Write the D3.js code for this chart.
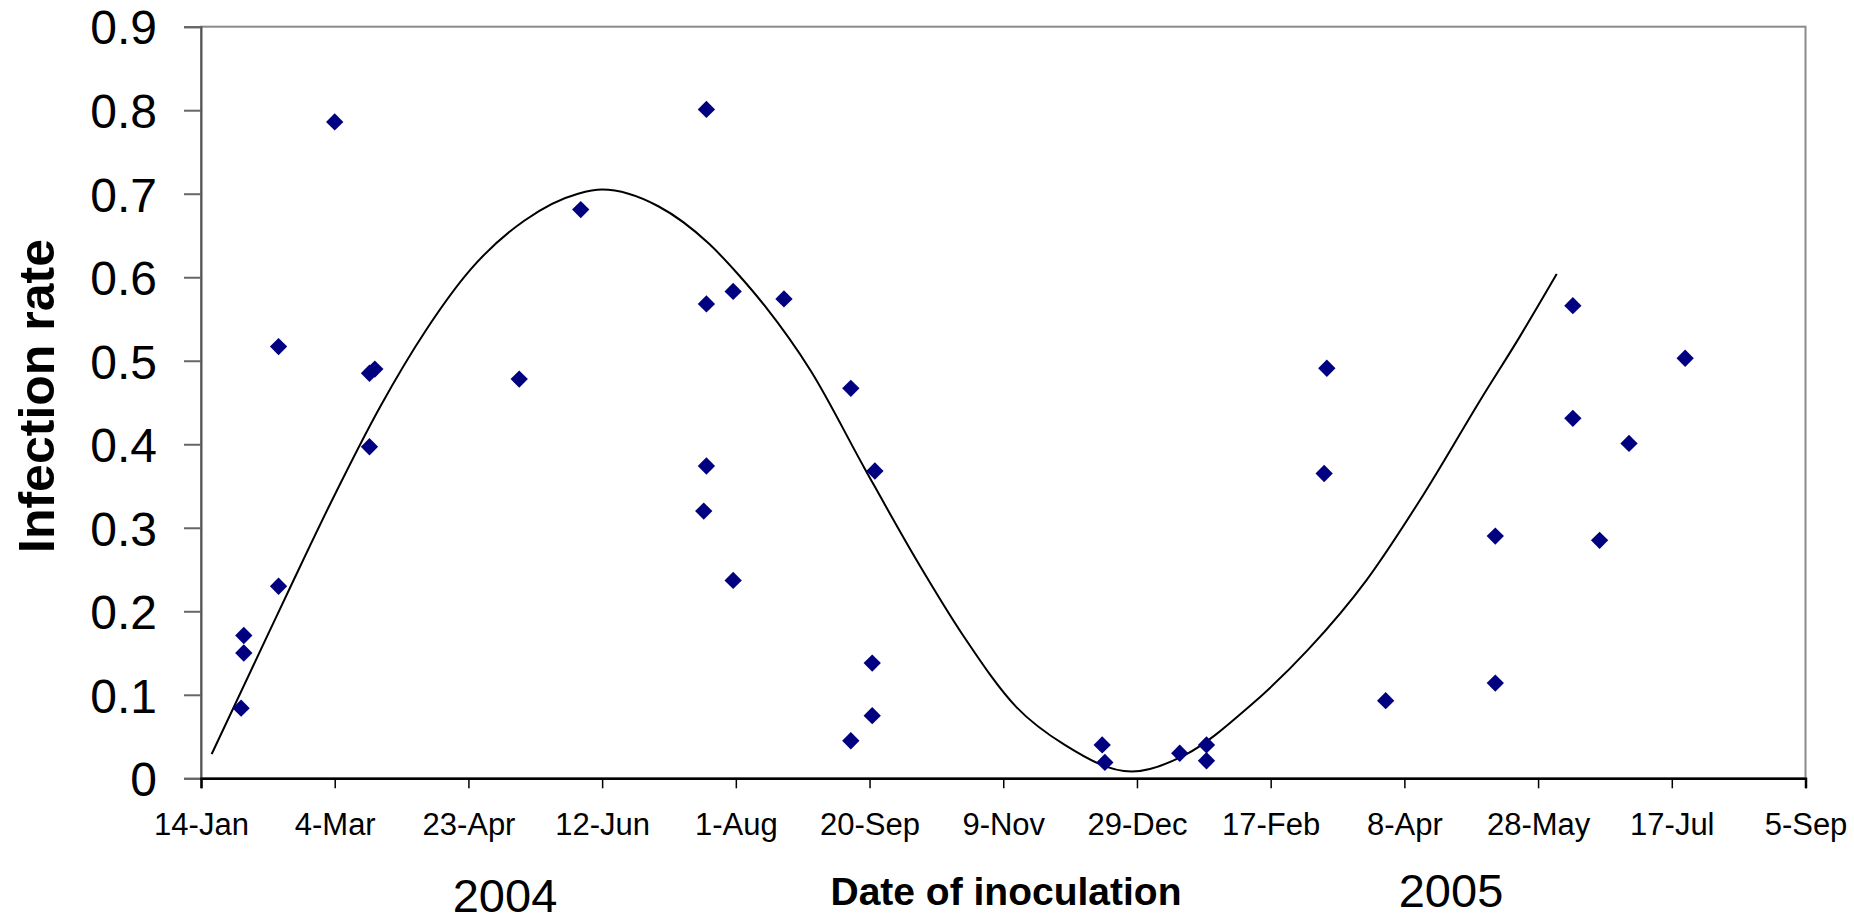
<!DOCTYPE html>
<html>
<head>
<meta charset="utf-8">
<script src="https://cdn.jsdelivr.net/npm/d3@7"></script>
<style>
  html, body { margin: 0; padding: 0; background: #fff; }
  svg { display: block; }
  text { font-family: "Liberation Sans", Arial, sans-serif; fill: #000; }
</style>
</head>
<body>
<svg id="chart" width="1854" height="921"></svg>
<script>
// ---- data ----
const pointDates = [
  "2004-01-30","2004-01-30","2004-01-29",
  "2004-02-12","2004-02-12",
  "2004-03-04",
  "2004-03-17","2004-03-19","2004-03-17",
  "2004-05-12",
  "2004-06-04",
  "2004-07-21","2004-07-21","2004-07-21","2004-07-20",
  "2004-07-31","2004-07-31",
  "2004-08-19",
  "2004-09-13","2004-09-13",
  "2004-09-22","2004-09-21","2004-09-21",
  "2004-12-16","2004-12-17",
  "2005-01-14",
  "2005-01-24","2005-01-24",
  "2005-03-10","2005-03-09",
  "2005-04-01",
  "2005-05-12","2005-05-12",
  "2005-06-10","2005-06-10",
  "2005-06-20",
  "2005-07-01",
  "2005-07-22"
];
const pointRates = [
  0.171, 0.150, 0.084,
  0.517, 0.230,
  0.786,
  0.485, 0.490, 0.397,
  0.478,
  0.681,
  0.801, 0.568, 0.374, 0.320,
  0.583, 0.237,
  0.574,
  0.467, 0.045,
  0.368, 0.138, 0.075,
  0.040, 0.019,
  0.030,
  0.040, 0.021,
  0.491, 0.365,
  0.093,
  0.290, 0.114,
  0.566, 0.431,
  0.285,
  0.401,
  0.503
];
const curveDates = [
  "2004-01-18","2004-02-08","2004-02-17","2004-03-03","2004-03-21","2004-04-07",
  "2004-04-24","2004-05-14","2004-06-03","2004-06-12","2004-07-03","2004-07-22",
  "2004-08-02","2004-08-12","2004-08-29","2004-09-18","2004-10-08","2004-10-25",
  "2004-11-14","2004-12-02","2004-12-27","2005-01-16","2005-02-09","2005-03-03",
  "2005-03-25","2005-04-15","2005-05-07","2005-05-21","2005-06-04"
];
const curveRates = [
  0.029, 0.172, 0.233, 0.333, 0.445, 0.536,
  0.610, 0.668, 0.700, 0.705, 0.685, 0.640,
  0.603, 0.565, 0.488, 0.372, 0.259, 0.171,
  0.085, 0.040, 0.008, 0.028, 0.086, 0.154,
  0.238, 0.339, 0.456, 0.528, 0.604
];
const xTickDates = [
  "2004-01-14","2004-03-04","2004-04-23","2004-06-12","2004-08-01","2004-09-20",
  "2004-11-09","2004-12-29","2005-02-17","2005-04-08","2005-05-28","2005-07-17","2005-09-05"
];
const yTicks = [0, 0.1, 0.2, 0.3, 0.4, 0.5, 0.6, 0.7, 0.8, 0.9];
const yTitle = "Infection rate";
const xTitle = "Date of inoculation";
const yearLabels = ["2004", "2005"];

// ---- layout ----
const parse = d3.utcParse("%Y-%m-%d");
const fmt = d3.utcFormat("%-d-%b");
const plot = { left: 201, right: 1805.5, top: 26.7, bottom: 778.3 };

const svg = d3.select("#chart");

const x = d3.scaleUtc()
  .domain([parse(xTickDates[0]), parse(xTickDates[xTickDates.length - 1])])
  .range([plot.left, plot.right]);
const y = d3.scaleLinear()
  .domain([0, 0.9])
  .range([plot.bottom, plot.top]);

// plot area border
svg.append("rect")
  .attr("x", plot.left).attr("y", plot.top)
  .attr("width", plot.right - plot.left).attr("height", plot.bottom - plot.top)
  .attr("fill", "none").attr("stroke", "#8a8a8a").attr("stroke-width", 2);

// y axis
const yAxis = svg.append("g")
  .attr("transform", `translate(${plot.left},0)`)
  .call(d3.axisLeft(y).tickValues(yTicks).tickSize(17).tickPadding(27)
    .tickFormat(d3.format(".1~f")));
yAxis.select(".domain").attr("stroke", "#555").attr("stroke-width", 2);
yAxis.selectAll(".tick line").attr("stroke", "#666").attr("stroke-width", 2);
yAxis.selectAll(".tick text")
  .style("font-family", "'Liberation Sans', Arial, sans-serif")
  .style("font-size", "48px").attr("fill", "#000").attr("dy", "0.36em");

// x axis
const xAxis = svg.append("g")
  .attr("transform", `translate(0,${plot.bottom})`)
  .call(d3.axisBottom(x).tickValues(xTickDates.map(parse)).tickSize(10).tickPadding(25)
    .tickFormat(fmt));
xAxis.select(".domain").attr("stroke", "#000").attr("stroke-width", 2.5);
xAxis.selectAll(".tick line").attr("stroke", "#000").attr("stroke-width", 1.5);
xAxis.selectAll(".tick text")
  .style("font-family", "'Liberation Sans', Arial, sans-serif")
  .style("font-size", "31px").attr("fill", "#000");

// fitted curve
const curveData = curveDates.map((d, i) => ({ date: parse(d), v: curveRates[i] }));
svg.append("path")
  .datum(curveData)
  .attr("fill", "none")
  .attr("stroke", "#000")
  .attr("stroke-width", 2)
  .attr("d", d3.line().x(d => x(d.date)).y(d => y(d.v)).curve(d3.curveMonotoneX));

// points
const pts = pointDates.map((d, i) => ({ date: parse(d), v: pointRates[i] }));
const diamond = d3.symbol().type(d3.symbolSquare).size(150);
svg.append("g").selectAll("path")
  .data(pts)
  .join("path")
  .attr("d", diamond)
  .attr("transform", d => `translate(${x(d.date)},${y(d.v)}) rotate(45)`)
  .attr("fill", "#000080");

// titles
svg.append("text")
  .attr("transform", "translate(54,396) rotate(-90)")
  .attr("text-anchor", "middle")
  .style("font-weight", "bold").style("font-size", "50px")
  .text(yTitle);

svg.append("text")
  .attr("x", 1006).attr("y", 905)
  .attr("text-anchor", "middle")
  .style("font-weight", "bold").style("font-size", "39px")
  .text(xTitle);

svg.append("text")
  .attr("x", 505).attr("y", 912)
  .attr("text-anchor", "middle")
  .style("font-size", "47px")
  .text(yearLabels[0]);

svg.append("text")
  .attr("x", 1451).attr("y", 907)
  .attr("text-anchor", "middle")
  .style("font-size", "47px")
  .text(yearLabels[1]);
</script>
</body>
</html>
